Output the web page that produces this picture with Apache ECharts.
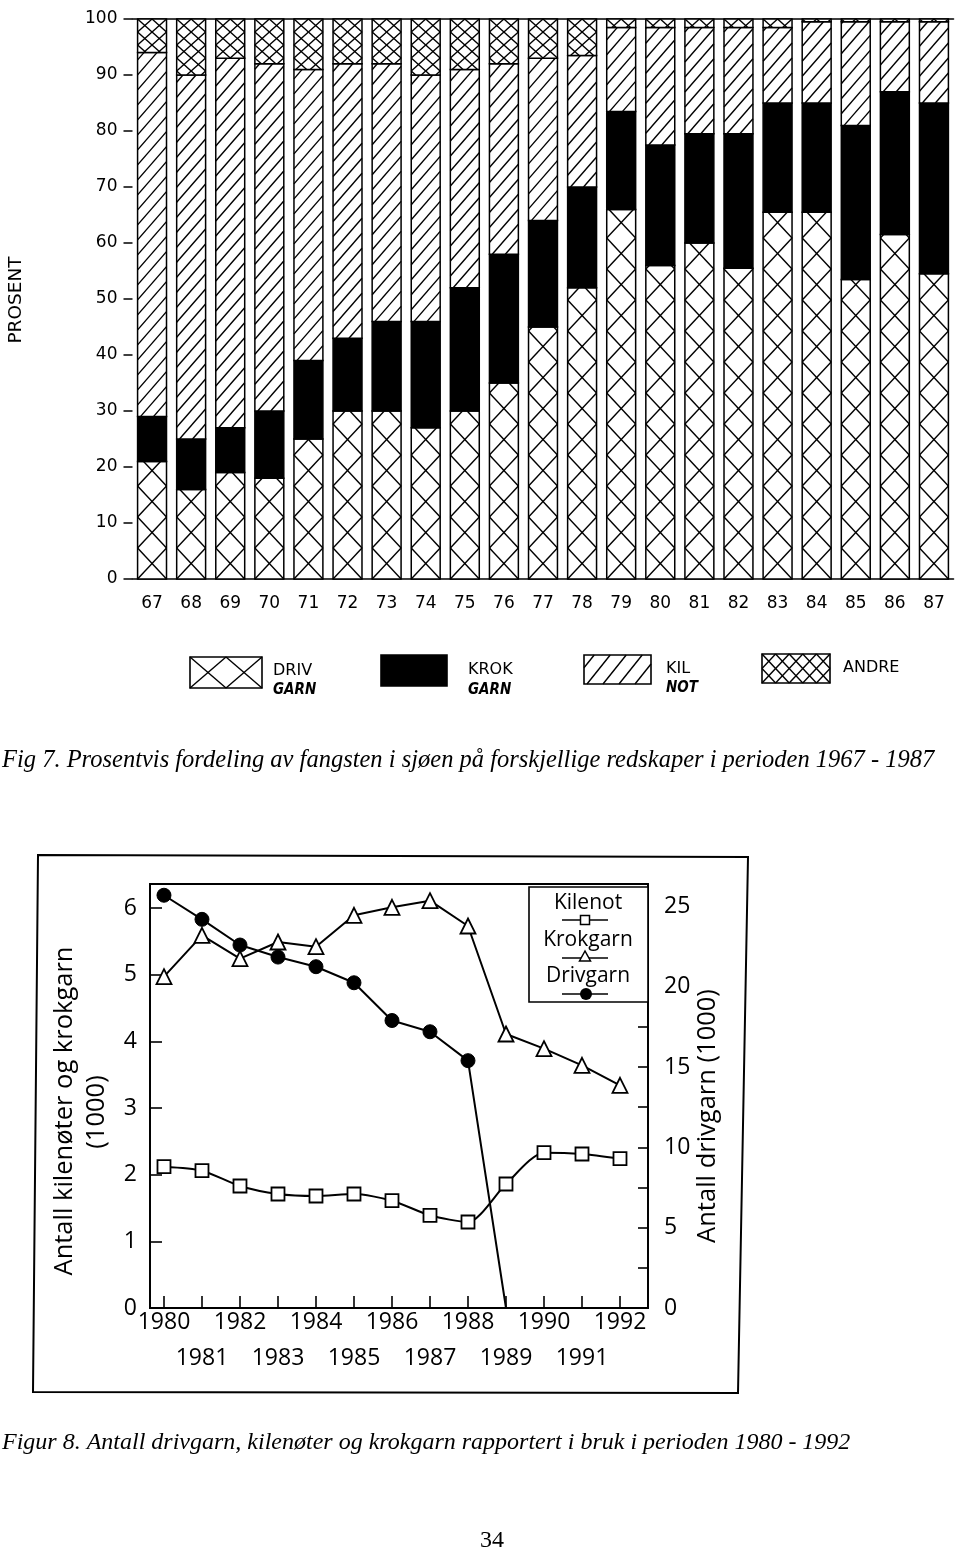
<!DOCTYPE html>
<html><head><meta charset="utf-8">
<script src="https://cdn.jsdelivr.net/npm/echarts@6/dist/echarts.min.js"></script>
<style>html,body{margin:0;padding:0;background:#fff}#c{width:960px;height:1552px}</style>
</head><body><div id="c"></div>
<script>
// ---------- Fig 7 data (percent of catch by gear) ----------
const years7 = ['67','68','69','70','71','72','73','74','75','76','77','78','79','80','81','82','83','84','85','86','87'];
const driv  = [21,16,19,18,25,30,30,27,30,35,45,52,66,56,60,55.5,65.5,65.5,53.5,61.5,54.5];
const krok  = [8,9,8,12,14,13,16,19,22,23,19,18,17.5,21.5,19.5,24,19.5,19.5,27.5,25.5,30.5];
const kil   = [65,65,66,62,52,49,46,44,39,34,29,23.5,15,21,19,19,13.5,14.5,18.5,12.5,14.5];
const andre = [6,10,7,8,9,8,8,10,9,8,7,6.5,1.5,1.5,1.5,1.5,1.5,0.5,0.5,0.5,0.5];

// ---------- Fig 8 data (number of gear, 1000) ----------
const years8   = [1980,1981,1982,1983,1984,1985,1986,1987,1988,1989,1990,1991,1992];
const evenYears = [1980,1982,1984,1986,1988,1990,1992];
const oddYears  = [1981,1983,1985,1987,1989,1991];
const kilenot  = [2.12,2.06,1.83,1.71,1.68,1.71,1.61,1.39,1.29,1.86,2.33,2.31,2.24];
const krokgarn = [4.97,5.59,5.24,5.49,5.42,5.89,6.01,6.11,5.73,4.11,3.89,3.64,3.34];
const drivYears = [1980,1981,1982,1983,1984,1985,1986,1987,1988,1989];
const drivgarn = [25.7,24.2,22.6,21.85,21.25,20.25,17.9,17.2,15.4,0];
const leftTicks   = [0,1,2,3,4,5,6];
const rightLabels = [0,5,10,15,20,25];
const rightTicks  = [2.5,5,7.5,10,12.5,15,17.5,20,22.5,25];

// ---------- hatch helpers ----------
function clipSeg(ax,ay,bx,by,rx0,ry0,rx1,ry1){
  let t0=0,t1=1; const dx=bx-ax, dy=by-ay;
  const p=[-dx,dx,-dy,dy], q=[ax-rx0, rx1-ax, ay-ry0, ry1-ay];
  for(let i=0;i<4;i++){
    if(p[i]===0){ if(q[i]<0) return null; }
    else { const r=q[i]/p[i];
      if(p[i]<0){ if(r>t1) return null; if(r>t0) t0=r; }
      else { if(r<t0) return null; if(r<t1) t1=r; } }
  }
  if(t1-t0<1e-6) return null;
  return [ax+t0*dx, ay+t0*dy, ax+t1*dx, ay+t1*dy];
}
function crossSegs(x0,x1,yb,yt,cols,ch,fromTop){
  const out=[]; const cw=(x1-x0)/cols; const H=yb-yt;
  const n=Math.ceil(H/ch)+1;
  for(let k=-1;k<n;k++){
    let cb,ct;
    if(fromTop){ ct=yt+k*ch; cb=ct+ch; } else { cb=yb-k*ch; ct=cb-ch; }
    for(let c=0;c<cols;c++){
      const a=x0+c*cw, b=a+cw;
      const s1=clipSeg(a,cb,b,ct,x0,yt,x1,yb); if(s1) out.push(s1);
      const s2=clipSeg(b,cb,a,ct,x0,yt,x1,yb); if(s2) out.push(s2);
    }
  }
  return out;
}
function hatchSegs(x0,x1,yb,yt,slope,sp){
  const out=[]; const w=x1-x0;
  for(let o=-slope*w; o<(yb-yt)+sp; o+=sp){
    const s=clipSeg(x0,yb-o,x1,yb-o-slope*w,x0,yt,x1,yb); if(s) out.push(s);
  }
  return out;
}
function segEls(segs,lw){
  return segs.map(s=>({type:'line',silent:true,shape:{x1:s[0],y1:s[1],x2:s[2],y2:s[3]},style:{stroke:'#000',lineWidth:lw}}));
}
const PAT = {
  driv:  {fill:'#fff', lines:(x0,x1,yb,yt)=>crossSegs(x0,x1,yb,yt,1,31,false)},
  krok:  {fill:'#000', lines:()=>[]},
  kil:   {fill:'#fff', lines:(x0,x1,yb,yt)=>hatchSegs(x0,x1,yb,yt,1.15,15)},
  andre: {fill:'#fff', lines:(x0,x1,yb,yt)=>crossSegs(x0,x1,yb,yt,2,13,true)}
};
function renderSeg(kind){
  return function(params, api){
    const i=api.value(0), lo=api.value(1), hi=api.value(2);
    const pLo=api.coord([i,lo]), pHi=api.coord([i,hi]);
    const bw=api.size([1,0])[0]*0.74;
    const x0=pLo[0]-bw/2, x1=pLo[0]+bw/2, yb=pLo[1], yt=pHi[1];
    const ch=[{type:'rect',shape:{x:x0,y:yt,width:bw,height:yb-yt},style:{fill:PAT[kind].fill,stroke:'#000',lineWidth:1.5}}];
    return {type:'group',children:ch.concat(segEls(PAT[kind].lines(x0,x1,yb,yt),1.4))};
  };
}
const layers=[['driv',driv],['krok',krok],['kil',kil],['andre',andre]];
const base=years7.map(()=>0);
const barSeries=layers.map(([kind,arr])=>{
  const data=arr.map((v,i)=>{const d=[i,base[i],base[i]+v]; base[i]+=v; return d;});
  return {type:'custom',name:kind,xAxisIndex:0,yAxisIndex:0,renderItem:renderSeg(kind),encode:{x:0,y:[1,2]},data:data,clip:false,silent:true};
});

// ---------- legend graphics (Fig 7) ----------
const legendEls=[];
function legBox(x,y,w,h,fill,segs){
  legendEls.push({type:'rect',shape:{x:x,y:y,width:w,height:h},style:{fill:fill,stroke:'#000',lineWidth:1.6}});
  segEls(segs,1.4).forEach(e=>legendEls.push(e));
}
legBox(190,657,72,31,'#fff',crossSegs(190,262,688,657,2,31,false));
legBox(381,655,66,31,'#000',[]);
legBox(584,655,67,29,'#fff',hatchSegs(584,651,684,655,1.25,20));
legBox(762,654,68,29,'#fff',crossSegs(762,830,683,654,5,14.5,true));
function legText(t,x,y,opt){
  legendEls.push({type:'text',x:x,y:y,style:Object.assign({text:t,fill:'#000',font:'16px "DejaVu Sans"',textVerticalAlign:'middle'},opt||{})});
}
legText('DRIV',273,671);
legText('GARN',273,690,{font:'italic bold 15px "DejaVu Sans Condensed"'});
legText('KROK',468,670);
legText('GARN',468,690,{font:'italic bold 15px "DejaVu Sans Condensed"'});
legText('KIL',666,669);
legText('NOT',666,688,{font:'italic bold 15px "DejaVu Sans Condensed"'});
legText('ANDRE',843,668);

// ---------- Fig 8 legend ----------
const leg8=[
  {type:'rect',shape:{x:529,y:887,width:119,height:115},style:{fill:'#fff',stroke:'#000',lineWidth:1.6},z:50},
  {type:'text',x:588,y:903,style:{text:'Kilenot',font:'21px "Open Sans"',fill:'#000',textAlign:'center',textVerticalAlign:'middle'},z:51},
  {type:'line',shape:{x1:562,y1:920,x2:608,y2:920},style:{stroke:'#000',lineWidth:1.6},z:51},
  {type:'rect',shape:{x:580.5,y:915.5,width:9,height:9},style:{fill:'#fff',stroke:'#000',lineWidth:1.5},z:52},
  {type:'text',x:588,y:940,style:{text:'Krokgarn',font:'21px "Open Sans"',fill:'#000',textAlign:'center',textVerticalAlign:'middle'},z:51},
  {type:'line',shape:{x1:562,y1:958,x2:608,y2:958},style:{stroke:'#000',lineWidth:1.6},z:51},
  {type:'polygon',shape:{points:[[585,951],[579.5,961],[590.5,961]]},style:{fill:'#fff',stroke:'#000',lineWidth:1.5},z:52},
  {type:'text',x:588,y:976,style:{text:'Drivgarn',font:'21px "Open Sans"',fill:'#000',textAlign:'center',textVerticalAlign:'middle'},z:51},
  {type:'line',shape:{x1:562,y1:994,x2:608,y2:994},style:{stroke:'#000',lineWidth:1.6},z:51},
  {type:'circle',shape:{cx:586,cy:994,r:6},style:{fill:'#000'},z:52}
];

const chart=echarts.init(document.getElementById('c'),null,{renderer:'canvas',width:960,height:1552});
const serif='"Liberation Serif", "Times New Roman", serif';
const xMin8=1979.632, xMax8=1992.737;
chart.setOption({
  animation:false,
  backgroundColor:'#fff',
  grid:[
    {left:132.5,top:19,width:821,height:560},
    {left:150,top:884,width:498,height:424,show:true,borderColor:'#000',borderWidth:1.8,backgroundColor:'transparent'}
  ],
  xAxis:[
    {gridIndex:0,type:'category',data:years7,boundaryGap:true,
     axisLine:{lineStyle:{color:'#000',width:1.6}},
     axisTick:{alignWithLabel:true,length:10,lineStyle:{color:'#000',width:1.5}},
     axisLabel:{color:'#000',fontFamily:'DejaVu Sans',fontSize:17,margin:16}},
    {gridIndex:0,type:'category',data:years7,position:'top',
     axisLine:{lineStyle:{color:'#000',width:1.6}},axisTick:{show:false},axisLabel:{show:false}},
    {gridIndex:1,type:'value',min:xMin8,max:xMax8,position:'bottom',
     axisLine:{lineStyle:{color:'#000',width:1.8}},
     axisTick:{show:true,inside:true,length:12,customValues:years8,lineStyle:{color:'#000',width:1.6}},
     axisLabel:{customValues:evenYears,showMinLabel:true,showMaxLabel:true,
       color:'#000',fontFamily:'Open Sans',fontSize:23,lineHeight:36,margin:-4,formatter:v=>''+v},
     splitLine:{show:false}},
    {gridIndex:1,type:'value',min:xMin8,max:xMax8,position:'bottom',
     axisLine:{show:false},axisTick:{show:false},
     axisLabel:{customValues:oddYears,showMinLabel:true,showMaxLabel:true,
       color:'#000',fontFamily:'Open Sans',fontSize:23,lineHeight:36,margin:32,formatter:v=>''+v},
     splitLine:{show:false}}
  ],
  yAxis:[
    {gridIndex:0,type:'value',min:0,max:100,interval:10,
     axisLine:{show:false},
     axisTick:{show:true,length:9,lineStyle:{color:'#000',width:1.5}},
     axisLabel:{color:'#000',fontFamily:'DejaVu Sans',fontSize:17,margin:15},
     splitLine:{show:false}},
    {gridIndex:1,type:'value',min:0,max:6.36,position:'left',
     axisLine:{show:true,lineStyle:{color:'#000',width:1.8}},
     axisTick:{show:true,inside:true,length:12,customValues:leftTicks,lineStyle:{color:'#000',width:1.6}},
     axisLabel:{customValues:leftTicks,showMinLabel:true,color:'#000',fontFamily:'Open Sans',fontSize:23,margin:13},
     splitLine:{show:false}},
    {gridIndex:1,type:'value',min:0,max:26.4,position:'right',
     axisLine:{show:true,lineStyle:{color:'#000',width:1.8}},
     axisTick:{show:true,inside:true,length:10,customValues:rightTicks,lineStyle:{color:'#000',width:1.6}},
     axisLabel:{customValues:rightLabels,showMinLabel:true,color:'#000',fontFamily:'Open Sans',fontSize:23,margin:16},
     splitLine:{show:false}}
  ],
  series: barSeries.concat([
    {type:'line',name:'Kilenot',xAxisIndex:2,yAxisIndex:1,data:years8.map((y,i)=>[y,kilenot[i]]),
     smooth:0.25,symbol:'rect',symbolSize:13,showSymbol:true,
     lineStyle:{color:'#000',width:2},itemStyle:{color:'#fff',borderColor:'#000',borderWidth:1.8},z:3},
    {type:'line',name:'Krokgarn',xAxisIndex:2,yAxisIndex:1,data:years8.map((y,i)=>[y,krokgarn[i]]),
     symbol:'triangle',symbolSize:15,showSymbol:true,
     lineStyle:{color:'#000',width:2},itemStyle:{color:'#fff',borderColor:'#000',borderWidth:1.8},z:3},
    {type:'line',name:'Drivgarn',xAxisIndex:2,yAxisIndex:2,
     data:drivYears.map((y,i)=>(drivgarn[i]===0?{value:[y,0],symbol:'none'}:[y,drivgarn[i]])),
     symbol:'circle',symbolSize:14,showSymbol:true,
     lineStyle:{color:'#000',width:2},itemStyle:{color:'#000',borderColor:'#000'},z:3}
  ]),
  graphic:[
    {type:'text',x:16,y:300,rotation:Math.PI/2,style:{text:'PROSENT',font:'18.5px "DejaVu Sans"',fill:'#000',textAlign:'center',textVerticalAlign:'middle'}},
    ...legendEls,
    {type:'text',x:2,y:761,style:{text:'Fig 7. Prosentvis fordeling av fangsten i sjøen på forskjellige redskaper i perioden 1967 - 1987',font:'italic 24.5px '+serif,fill:'#000',textVerticalAlign:'middle'}},
    {type:'polygon',shape:{points:[[38,855],[748,857],[738,1393],[33,1392]]},style:{fill:'none',stroke:'#000',lineWidth:2}},
    {type:'text',x:65,y:1111,rotation:Math.PI/2,style:{text:'Antall kilenøter og krokgarn',font:'25.5px "Open Sans"',fill:'#000',textAlign:'center',textVerticalAlign:'middle'}},
    {type:'text',x:97,y:1112,rotation:Math.PI/2,style:{text:'(1000)',font:'25.5px "Open Sans"',fill:'#000',textAlign:'center',textVerticalAlign:'middle'}},
    {type:'text',x:708,y:1116,rotation:Math.PI/2,style:{text:'Antall drivgarn (1000)',font:'25.5px "Open Sans"',fill:'#000',textAlign:'center',textVerticalAlign:'middle'}},
    ...leg8,
    {type:'text',x:2,y:1443,style:{text:'Figur 8. Antall drivgarn, kilenøter og krokgarn rapportert i bruk i perioden 1980 - 1992',font:'italic 24px '+serif,fill:'#000',textVerticalAlign:'middle'}},
    {type:'text',x:492,y:1541,style:{text:'34',font:'24px '+serif,fill:'#000',textAlign:'center',textVerticalAlign:'middle'}}
  ]
});
</script>
</body></html>
